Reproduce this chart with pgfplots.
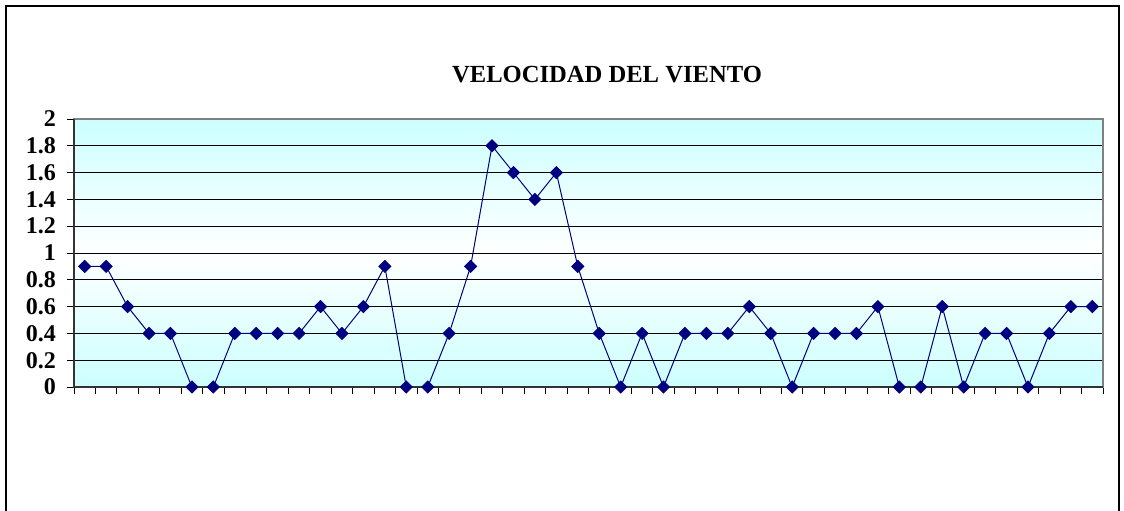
\documentclass[border=0pt]{standalone}
\usepackage{pgfplots}
\pgfplotsset{compat=1.18}
\usepackage{fontspec}
\setmainfont{Liberation Serif}
\definecolor{bgcyan}{HTML}{CCFFFF}
\definecolor{navy}{HTML}{000080}
\pgfplotstableread{
x y
1 0.9
2 0.9
3 0.6
4 0.4
5 0.4
6 0
7 0
8 0.4
9 0.4
10 0.4
11 0.4
12 0.6
13 0.4
14 0.6
15 0.9
16 0
17 0
18 0.4
19 0.9
20 1.8
21 1.6
22 1.4
23 1.6
24 0.9
25 0.4
26 0
27 0.4
28 0
29 0.4
30 0.4
31 0.4
32 0.6
33 0.4
34 0
35 0.4
36 0.4
37 0.4
38 0.6
39 0
40 0
41 0.6
42 0
43 0.4
44 0.4
45 0
46 0.4
47 0.6
48 0.6
}\windtable
\begin{document}
\begin{tikzpicture}
\useasboundingbox (0pt,0pt) rectangle (562pt,255pt);
\draw[black,line width=0.8pt] (3pt,-10pt) -- (3pt,252pt) -- (559.5pt,252pt) -- (559.5pt,-10pt);
\node[font=\bfseries\fontsize{12.3}{14}\selectfont] at (303.5pt,217.5pt) {VELOCIDAD DEL VIENTO};
\begin{axis}[
  at={(37pt,61.5pt)}, anchor=south west,
  scale only axis, width=514.5pt, height=134pt,
  xmin=0.5, xmax=48.5, ymin=0, ymax=2,
  xtick={0.5,1.5,...,48.5}, xticklabels={},
  ytick={0,0.2,...,2},
  yticklabels={\textbf{0},\textbf{0.2},\textbf{0.4},\textbf{0.6},\textbf{0.8},\textbf{1},\textbf{1.2},\textbf{1.4},\textbf{1.6},\textbf{1.8},\textbf{2}},
  yticklabel style={font=\fontsize{12}{13}\selectfont, xshift=-2pt},
  xtick pos=bottom, ytick pos=left,
  tick align=outside, major tick length=3.5pt,
  tick style={black, line width=0.5pt},
  ymajorgrids, grid style={black, line width=0.5pt},
  axis line style={draw=gray, line width=0.8pt},
  axis background/.style={shade, top color=bgcyan, bottom color=bgcyan, middle color=white},
  clip=false,
]
\addplot[navy, line width=0.5pt, mark=square*, mark size=2.1pt, mark options={rotate=45, fill=navy, draw=navy}] table[x=x,y=y] {\windtable};
\draw[black!80, line width=0.6pt] (rel axis cs:0,1) -- (rel axis cs:0,0) -- (rel axis cs:1,0);
\end{axis}
\end{tikzpicture}
\end{document}
